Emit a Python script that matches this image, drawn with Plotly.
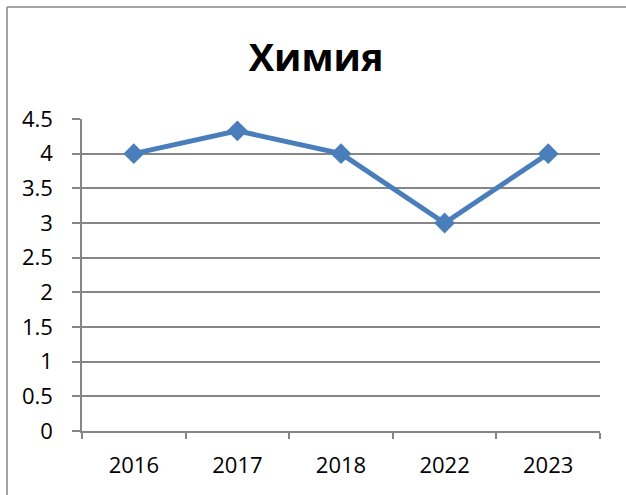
import plotly.graph_objects as go

categories = ["2016", "2017", "2018", "2022", "2023"]
values = [4, 4.33, 4, 3, 4]
y_ticks = [0, 0.5, 1, 1.5, 2, 2.5, 3, 3.5, 4, 4.5]
title_text = "Химия"

W, H = 626, 495
L, R, T, B = 82, 26, 119, 64

fig = go.Figure()
fig.add_trace(go.Scatter(
    x=categories, y=values, mode="lines+markers",
    line=dict(color="#4A7EBB", width=5),
    marker=dict(symbol="diamond", size=16, color="#4A7EBB"),
    showlegend=False,
))

grid = "#868686"
fig.update_layout(
    width=W, height=H,
    margin=dict(l=L, r=R, t=T, b=B, autoexpand=False),
    paper_bgcolor="white", plot_bgcolor="white",
    title=dict(text="<b>" + title_text + "</b>", xref="container", x=0.505,
               xanchor="center", yref="container",
               y=1 - 58 / H, yanchor="middle",
               font=dict(family="Open Sans", size=38, color="black")),
    font=dict(family="Open Sans", color="black"),
)
fig.update_xaxes(
    type="category", range=[-0.5, 4.5], automargin=False,
    showline=True, linecolor=grid, linewidth=1.5,
    tickson="boundaries", ticks="outside", ticklen=6, tickcolor=grid, tickwidth=1.5,
    showgrid=False, tickfont=dict(size=22), ticklabelstandoff=14,
)
fig.update_yaxes(
    range=[0, 4.5], tickvals=y_ticks, ticktext=[f"{v:g}" for v in y_ticks],
    automargin=False,
    showline=True, linecolor=grid, linewidth=1.5,
    ticks="outside", ticklen=8, tickcolor=grid, tickwidth=1.5,
    showgrid=True, gridcolor=grid, gridwidth=1.5,
    zeroline=False, tickfont=dict(size=22), ticklabelstandoff=15,
)
# chart-area border: top and left edges (right and bottom fall outside the frame)
fig.add_shape(type="line", xref="paper", yref="paper",
              xsizemode="pixel", ysizemode="pixel", xanchor=0, yanchor=0,
              x0=7 - L, x1=W - L, y0=H - B - 7, y1=H - B - 7,
              line=dict(color=grid, width=1.5), layer="below")
fig.add_shape(type="line", xref="paper", yref="paper",
              xsizemode="pixel", ysizemode="pixel", xanchor=0, yanchor=0,
              x0=7 - L, x1=7 - L, y0=-B, y1=H - B - 7,
              line=dict(color=grid, width=1.5), layer="below")

fig.write_html("out.html", config={"displayModeBar": False},
               post_script="document.body.style.margin='0';document.body.style.overflow='hidden';")
